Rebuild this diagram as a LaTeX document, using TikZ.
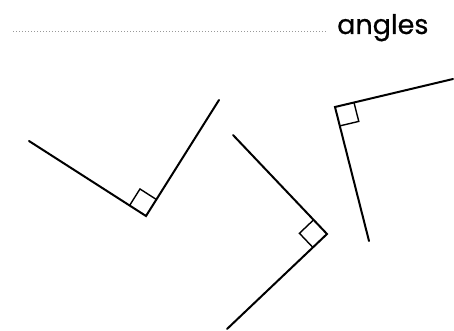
\documentclass[tikz,border=0pt]{standalone}
\usepackage{fontspec}
\setmainfont{Poppins}
\usetikzlibrary{calc}
\begin{document}
\begin{tikzpicture}[x=1pt,y=-1pt]
    \tikzset{arm/.style = {line width=2pt,line cap=round,line join=miter}}
    \tikzset{rightmark/.style = {line width=1.4pt}}
    \tikzset{blank/.style = {dotted,line width=1pt,gray!80}}
    \tikzset{word/.style = {anchor=base west,inner sep=0pt,font=\fontsize{27}{30}\selectfont\addfontfeature{FakeBold=0.6}}}
    \useasboundingbox (0,0) rectangle (454,331);
    % heading
    \coordinate (d1) at (13,32);
    \node[word] (title) at (337,34) {angles};
    \draw[blank] (d1) -- ($(title.west |- d1)+(-10,0)$);
    % first angle
    \coordinate (a1) at (29,141);
    \coordinate (v1) at (146,216);
    \coordinate (b1) at (219,100);
    % second angle
    \coordinate (a2) at (233,135);
    \coordinate (v2) at (327,234);
    \coordinate (b2) at (227,329);
    % third angle
    \coordinate (a3) at (453,79);
    \coordinate (v3) at (335,107);
    \coordinate (b3) at (369,241);
    \foreach \i in {1,2,3} {
        \draw[arm] (a\i) -- (v\i) -- (b\i);
        \draw[rightmark] ($(v\i)!19.5pt!(a\i)$) -- ($(v\i)!19.5pt!(a\i)+(v\i)!19.5pt!(b\i)-(v\i)$) -- ($(v\i)!19.5pt!(b\i)$);
    }
\end{tikzpicture}
\end{document}
